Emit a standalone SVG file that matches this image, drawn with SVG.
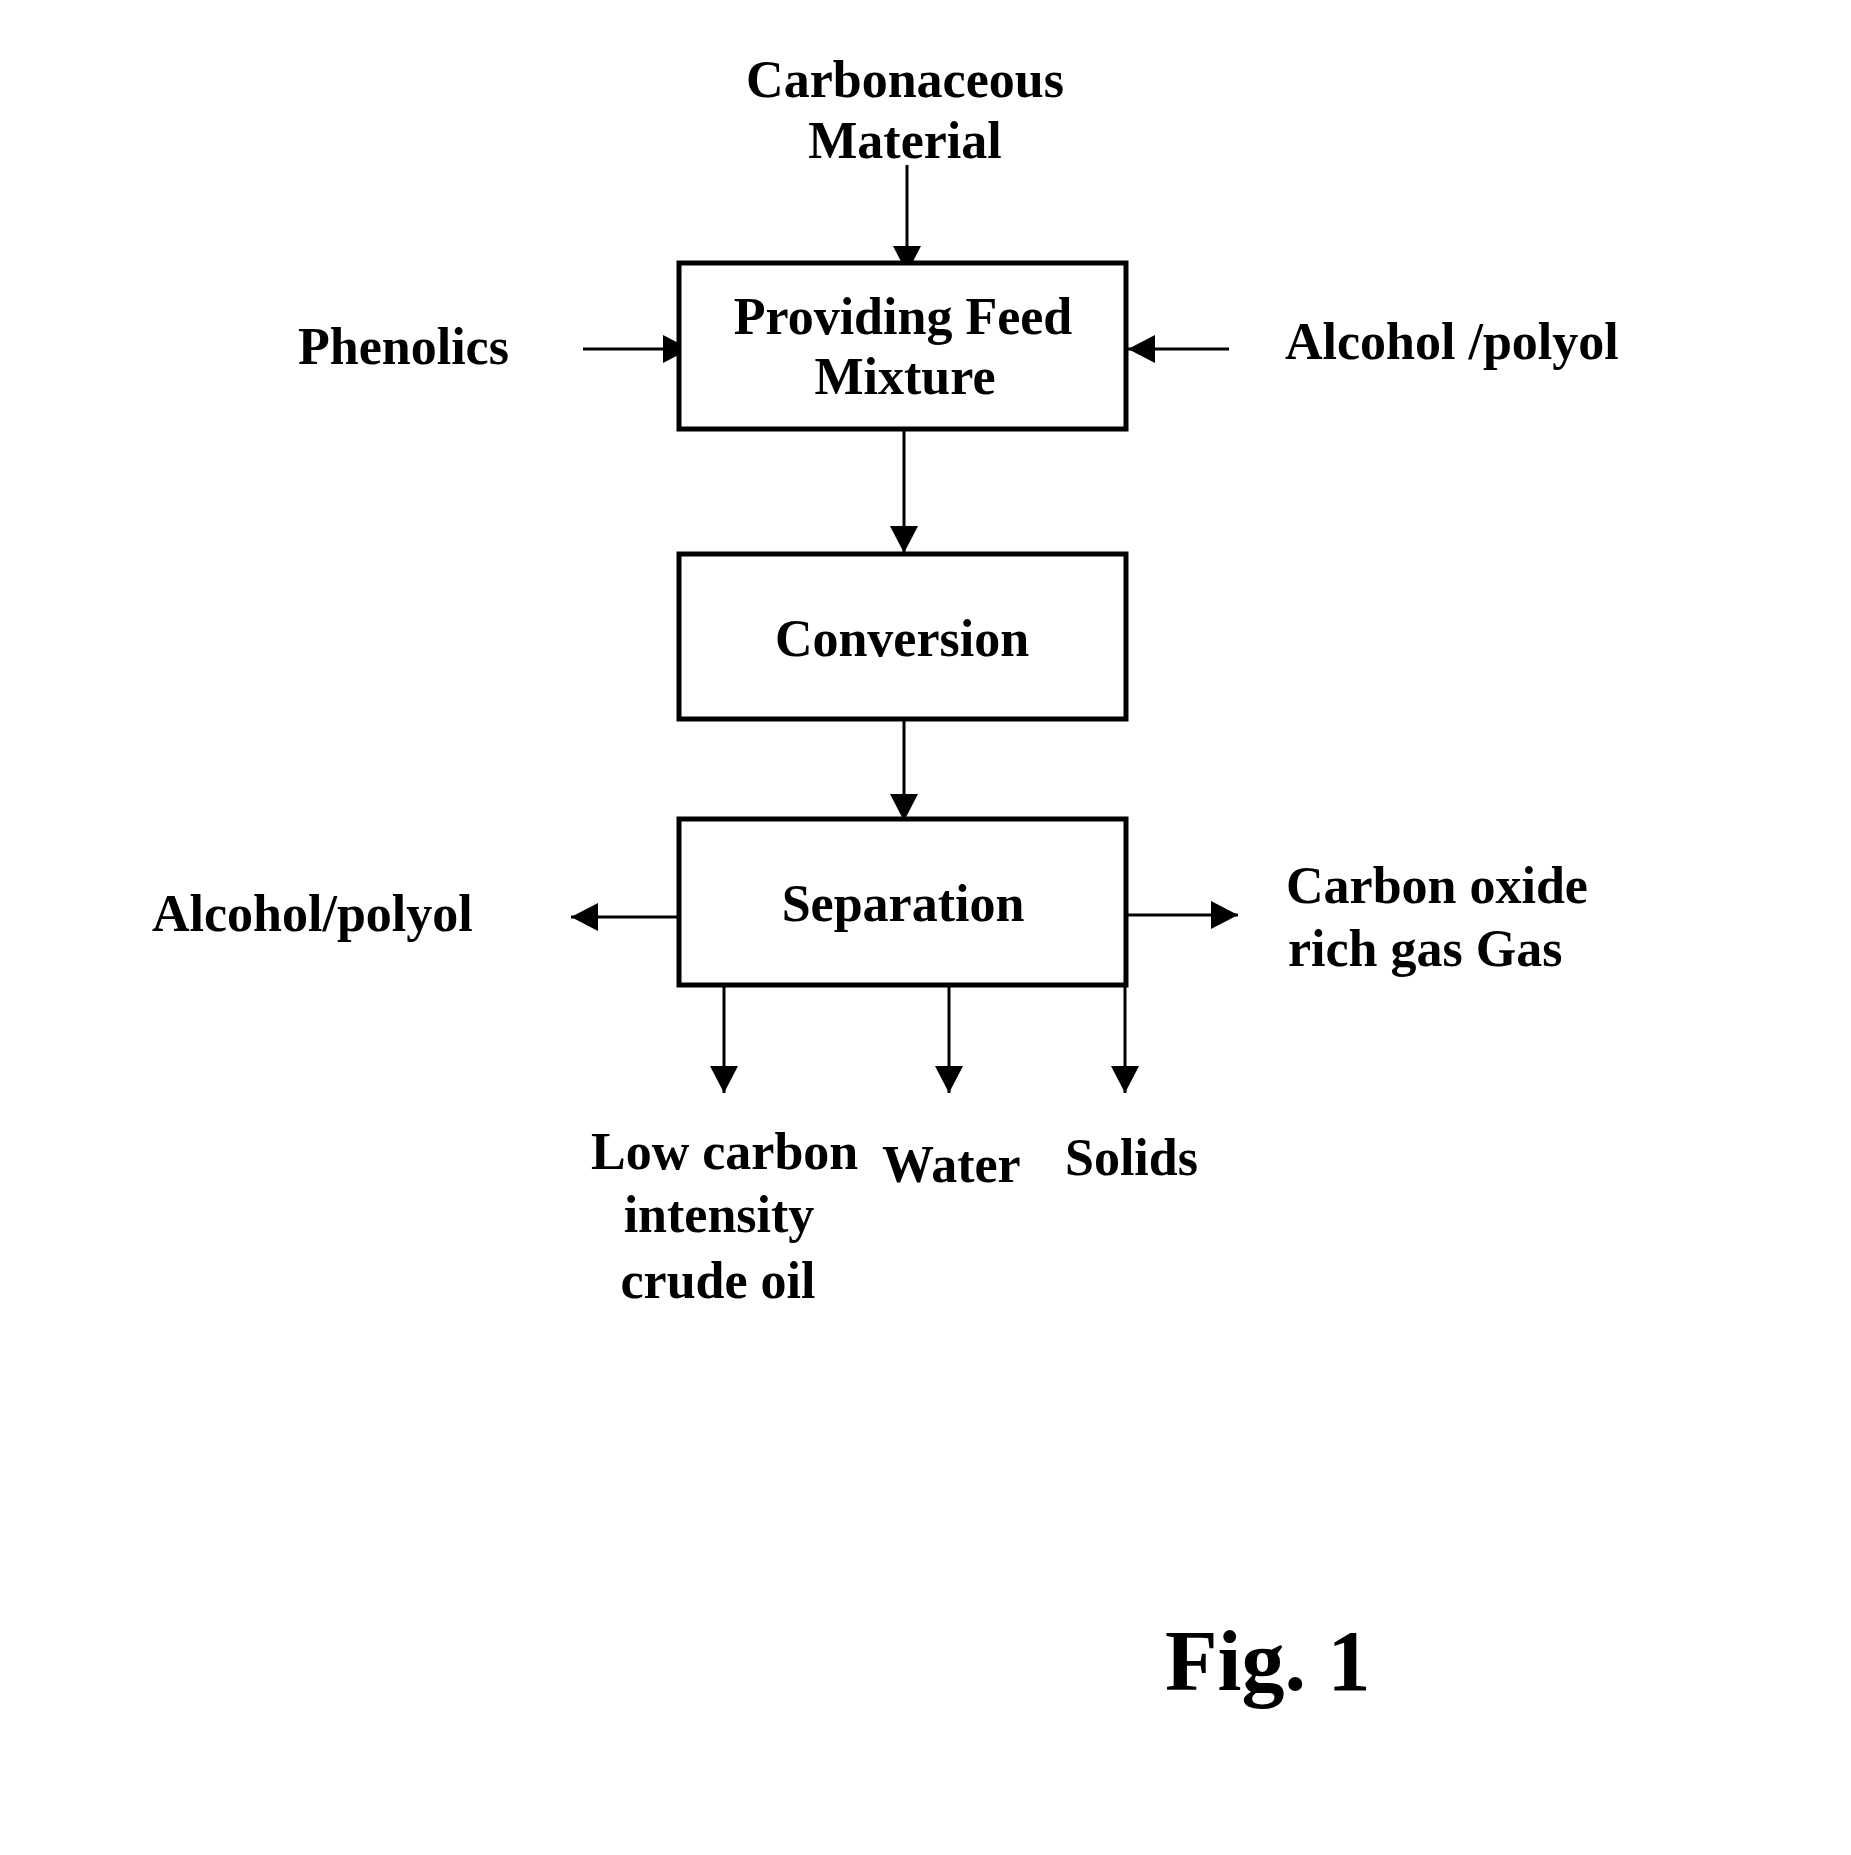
<svg xmlns="http://www.w3.org/2000/svg" width="1851" height="1855" viewBox="0 0 1851 1855">
<style>
.box{fill:#fff;stroke:#000;stroke-width:5}
.t{font-family:"Liberation Serif","Times New Roman",serif;font-weight:bold;font-size:52px;fill:#000}
.c{text-anchor:middle}
.ln{stroke:#000;stroke-width:3;fill:none;marker-end:url(#ah)}
</style>
<defs>
<marker id="ah" markerUnits="userSpaceOnUse" markerWidth="28" markerHeight="28" refX="27" refY="14" orient="auto" viewBox="0 0 28 28">
<path d="M0,0 L27,14 L0,28 Z" fill="#000"/>
</marker>
</defs>
<rect width="1851" height="1855" fill="#fff"/>
<g id="connectors">
<line class="ln" x1="907" y1="165" x2="907" y2="273"/>
<line class="ln" x1="583" y1="349" x2="690" y2="349"/>
<line class="ln" x1="1229" y1="349" x2="1128" y2="349"/>
<line class="ln" x1="904" y1="429" x2="904" y2="553"/>
<line class="ln" x1="904" y1="719" x2="904" y2="821"/>
<line class="ln" x1="679" y1="917" x2="571" y2="917"/>
<line class="ln" x1="1128" y1="915" x2="1238" y2="915"/>
<line class="ln" x1="724" y1="985" x2="724" y2="1093"/>
<line class="ln" x1="949" y1="985" x2="949" y2="1093"/>
<line class="ln" x1="1125" y1="985" x2="1125" y2="1093"/>
</g>
<g id="carbonaceous">
<text class="t c" x="905" y="97">Carbonaceous</text>
<text class="t c" x="905" y="158">Material</text>
</g>
<g id="feed">
<rect class="box" x="679" y="263" width="447" height="166"/>
<text class="t c" x="903" y="334">Providing Feed</text>
<text class="t c" x="905" y="394">Mixture</text>
</g>
<g id="phenolics"><text class="t" x="298" y="364">Phenolics</text></g>
<g id="alcohol-in"><text class="t" x="1285" y="359">Alcohol /polyol</text></g>
<g id="conversion">
<rect class="box" x="679" y="554" width="447" height="165"/>
<text class="t c" x="902" y="656">Conversion</text>
</g>
<g id="separation">
<rect class="box" x="679" y="819" width="447" height="166"/>
<text class="t c" x="903" y="921">Separation</text>
</g>
<g id="alcohol-out"><text class="t" x="152" y="931">Alcohol/polyol</text></g>
<g id="gas">
<text class="t" x="1286" y="903">Carbon oxide</text>
<text class="t" x="1288" y="966">rich gas Gas</text>
</g>
<g id="crude">
<text class="t" x="591" y="1169">Low carbon</text>
<text class="t c" x="719" y="1232">intensity</text>
<text class="t c" x="718" y="1298">crude oil</text>
</g>
<g id="water"><text class="t" x="882" y="1182">Water</text></g>
<g id="solids"><text class="t" x="1065" y="1175">Solids</text></g>
<g id="fig"><text class="t" x="1165" y="1690" style="font-size:86px">Fig. 1</text></g>
</svg>
